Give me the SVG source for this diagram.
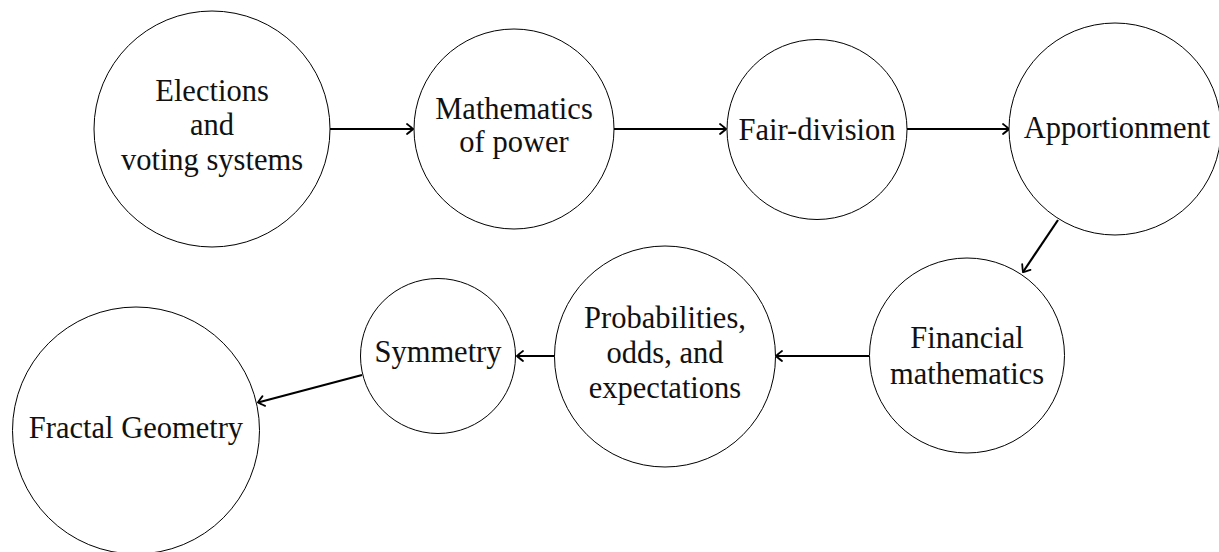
<svg xmlns="http://www.w3.org/2000/svg" width="1219" height="552" viewBox="0 0 1219 552">
<style>
.node circle{fill:#fff;stroke:#000;stroke-width:1}
.node text{font-family:"Liberation Serif","DejaVu Serif",serif;font-size:30.5px;text-anchor:middle;fill:#111}
.edge{stroke:#000;stroke-width:2.2;fill:none;marker-end:url(#arr)}
</style>
<defs>
<marker id="arr" markerUnits="userSpaceOnUse" viewBox="-8 -6 10 12" refX="0" refY="0" markerWidth="10" markerHeight="12" orient="auto" overflow="visible">
<path d="M -6 -5 Q -1.5 -1.5 0 0 Q -1.5 1.5 -6 5" fill="none" stroke="#000" stroke-width="1.8" stroke-linecap="round"/>
</marker>
</defs>
<rect width="1219" height="552" fill="#fff"/>
<g id="connectors">
<line class="edge" x1="330" y1="129" x2="413" y2="129"/>
<line class="edge" x1="614" y1="129" x2="726" y2="129"/>
<line class="edge" x1="907" y1="129" x2="1009" y2="129"/>
<line class="edge" x1="1058" y1="220" x2="1023" y2="272"/>
<line class="edge" x1="869" y1="356" x2="776" y2="356"/>
<line class="edge" x1="555" y1="356" x2="517" y2="356"/>
<line class="edge" x1="362" y1="375" x2="258" y2="402.5"/>
</g>
<g id="elections" class="node">
<circle cx="212" cy="129" r="118"/>
<text x="212" y="101">Elections</text>
<text x="212" y="135">and</text>
<text x="212" y="170">voting systems</text>
</g>
<g id="power" class="node">
<circle cx="514" cy="129" r="100"/>
<text x="514" y="119">Mathematics</text>
<text x="514" y="152">of power</text>
</g>
<g id="fairdivision" class="node">
<circle cx="817" cy="129.5" r="90"/>
<text x="817" y="140">Fair-division</text>
</g>
<g id="apportionment" class="node">
<circle cx="1115" cy="129" r="106"/>
<text x="1117" y="138">Apportionment</text>
</g>
<g id="financial" class="node">
<circle cx="967" cy="355.5" r="97.5"/>
<text x="967" y="348">Financial</text>
<text x="967" y="384">mathematics</text>
</g>
<g id="probabilities" class="node">
<circle cx="665" cy="356.5" r="110.5"/>
<text x="665" y="328">Probabilities,</text>
<text x="665" y="363">odds, and</text>
<text x="665" y="398">expectations</text>
</g>
<g id="symmetry" class="node">
<circle cx="438" cy="356" r="77.5"/>
<text x="438" y="362">Symmetry</text>
</g>
<g id="fractal" class="node">
<circle cx="136" cy="430.5" r="123.5"/>
<text x="136" y="438">Fractal Geometry</text>
</g>
</svg>
